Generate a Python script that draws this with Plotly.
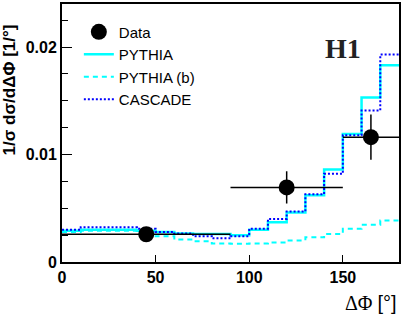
import plotly.graph_objects as go

# ---- data ----
bin_edges_start = 0
bin_width = 10
pythia = [0.0029, 0.0030, 0.0030, 0.0030, 0.0029, 0.0028, 0.00264, 0.0026, 0.0026,
          0.0025, 0.0030, 0.0037, 0.0046, 0.0062, 0.0086, 0.0119, 0.0153, 0.0183]
pythia_b = [0.0028, 0.0029, 0.0029, 0.0029, 0.0027, 0.0024, 0.0021, 0.00194, 0.00172,
            0.00169, 0.00172, 0.00182, 0.0020, 0.0023, 0.0026, 0.0031, 0.00347, 0.00387]
cascade = [0.0030, 0.00323, 0.00323, 0.00323, 0.0031, 0.0028, 0.00264, 0.0024, 0.0022,
           0.0024, 0.0031, 0.0040, 0.0047, 0.0063, 0.0082, 0.0118, 0.0141, 0.0193]
data_x = [45, 120, 165]
data_xerr = [45, 30, 15]
data_y = [0.00258, 0.00694, 0.01161]
data_yerr = [0.0003, 0.0015, 0.0021]


def step(vals):
    xs = [bin_edges_start + i * bin_width for i in range(len(vals) + 1)]
    ys = list(vals) + [vals[-1]]
    return xs, ys


fig = go.Figure()
x, y = step(pythia)
fig.add_trace(go.Scatter(x=x, y=y, mode="lines", line=dict(shape="hv", color="#00FFFF", width=2.5),
                         name="PYTHIA", legendrank=2))
x, y = step(pythia_b)
fig.add_trace(go.Scatter(x=x, y=y, mode="lines", line=dict(shape="hv", color="#00FFFF", width=2, dash="5px,4px"),
                         name="PYTHIA (b)", legendrank=3))
x, y = step(cascade)
fig.add_trace(go.Scatter(x=x, y=y, mode="lines", line=dict(shape="hv", color="#0000FF", width=2, dash="2px,2px"),
                         name="CASCADE", legendrank=4))
fig.add_trace(go.Scatter(x=data_x, y=data_y, mode="markers", name="Data", legendrank=1,
                         marker=dict(color="black", size=16),
                         error_x=dict(type="data", array=data_xerr, color="black", thickness=1.5, width=0),
                         error_y=dict(type="data", array=data_yerr, color="black", thickness=1.5, width=0)))

font = "Liberation Sans, Arial, Helvetica, sans-serif"
fig.update_layout(
    width=403, height=316,
    margin=dict(l=62, r=2, t=2, b=54),
    paper_bgcolor="white", plot_bgcolor="white",
    font=dict(family=font, color="black"),
    showlegend=True,
    legend=dict(x=0.05, y=0.955, xanchor="left", yanchor="top", bgcolor="rgba(0,0,0,0)",
                font=dict(size=15), tracegroupgap=0, itemwidth=30),
    xaxis=dict(range=[0, 180], tickvals=[0, 50, 100, 150], ticks="inside", ticklen=7, tickwidth=1,
               tickcolor="black", showgrid=False, zeroline=False, showline=True, linecolor="black",
               linewidth=2, mirror=True, tickfont=dict(size=16, weight="bold")),
    yaxis=dict(range=[0, 0.024], tickvals=[0, 0.01, 0.02], ticktext=["0", "0.01", "0.02"],
               ticks="inside", ticklen=10, tickwidth=1, tickcolor="black",
               minor=dict(tickvals=[0.0025, 0.005, 0.0075, 0.0125, 0.015, 0.0175, 0.0225],
                          ticks="inside", ticklen=6, tickcolor="black", tickwidth=1),
               showgrid=False, zeroline=False, showline=True, linecolor="black",
               linewidth=2, mirror=True, tickfont=dict(size=16, weight="bold")),
    annotations=[
        dict(text="H1", x=150, y=0.0199, xref="x", yref="y", showarrow=False,
             font=dict(family="Liberation Serif, Times New Roman, serif", size=28, weight="bold", color="#222")),
        dict(text="1/σ dσ/dΔΦ [1/°]", x=-0.155, y=0.668, xref="paper", yref="paper", showarrow=False,
             xanchor="center", yanchor="middle",
             textangle=-90, font=dict(size=17, weight="bold")),
        dict(text="ΔΦ <span style='font-family:Liberation Sans, Arial, sans-serif'>[°]</span>",
             x=1.0, y=-0.158, xref="paper", yref="paper", showarrow=False,
             xanchor="right", yanchor="middle",
             font=dict(family="Liberation Serif, Times New Roman, serif", size=20)),
    ],
)

fig.write_html("out.html", config={"displayModeBar": False})

with open("out.html", "r", encoding="utf-8") as f:
    html = f.read()
html = html.replace("<body>", '<body style="margin:0;padding:0;overflow:hidden">', 1)
with open("out.html", "w", encoding="utf-8") as f:
    f.write(html)
